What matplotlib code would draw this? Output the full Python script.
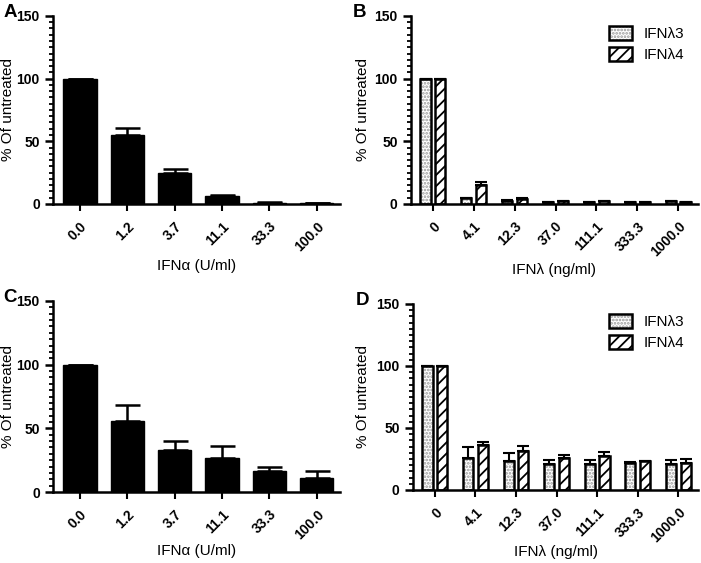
import matplotlib.pyplot as plt
import numpy as np
from matplotlib.ticker import MultipleLocator

plt.rcParams['font.family'] = ['Liberation Sans', 'DejaVu Sans']
plt.rcParams['hatch.linewidth'] = 1.3

# IFN alpha panels
alpha_doses = ['0.0', '1.2', '3.7', '11.1', '33.3', '100.0']
a_mean = [100, 55, 25, 6, 1, 0.5]
a_err = [0, 5.8, 2.6, 1.0, 0.3, 0.2]
c_mean = [100, 56, 32.7, 27, 16.5, 11.3]
c_err = [0, 12.7, 7.6, 9.4, 3.5, 4.9]

# IFN lambda panels
lambda_doses = ['0', '4.1', '12.3', '37.0', '111.1', '333.3', '1000.0']
b_l3 = [100, 4.5, 2.5, 1.5, 1.5, 1.5, 2.0]
b_l3_err = [0, 0.4, 0.3, 0.2, 0.2, 0.2, 0.3]
b_l4 = [100, 14.8, 4.0, 2.0, 2.0, 1.5, 1.5]
b_l4_err = [0, 2.6, 0.5, 0.3, 0.3, 0.2, 0.2]
d_l3 = [100, 26, 23, 20.7, 20.7, 22, 20.7]
d_l3_err = [0, 9, 6.5, 3.5, 3.3, 0.6, 3.3]
d_l4 = [100, 36, 31.5, 25.5, 27.7, 23, 22]
d_l4_err = [0, 3, 4, 3, 2.7, 0.4, 3]

fig = plt.figure(figsize=(7.01, 5.63), dpi=100)
axA = fig.add_axes([0.0756, 0.6377, 0.4094, 0.334])
axB = fig.add_axes([0.586, 0.6377, 0.410, 0.334])
axC = fig.add_axes([0.0756, 0.126, 0.4094, 0.3394])
axD = fig.add_axes([0.589, 0.1297, 0.407, 0.3305])


def style(ax, labels, xlabel, letter, ylab_x, xlab_y, letter_x):
    for s in ['top', 'right']:
        ax.spines[s].set_visible(False)
    for s in ['left', 'bottom']:
        ax.spines[s].set_linewidth(1.8)
    ax.set_ylim(0, 150)
    ax.yaxis.set_major_locator(MultipleLocator(50))
    ax.yaxis.set_minor_locator(MultipleLocator(5))
    ax.tick_params(axis='y', which='major', length=6, width=1.8, labelsize=10)
    ax.tick_params(axis='y', which='minor', length=3, width=1.3)
    ax.tick_params(axis='x', which='major', length=5, width=1.5, labelsize=10,
                   pad=6)
    ax.set_xticks(range(len(labels)))
    ax.set_xticklabels(labels, rotation=45, ha='right', rotation_mode='anchor',
                       fontweight='bold')
    for t in ax.get_yticklabels():
        t.set_fontweight('bold')
    ax.set_ylabel('% Of untreated', fontsize=11)
    ax.yaxis.set_label_coords(ylab_x, 0.5)
    ax.set_xlabel(xlabel, fontsize=11, va='center')
    ax.xaxis.set_label_coords(0.5, xlab_y)
    ax.text(letter_x, 1.02, letter, transform=ax.transAxes, fontsize=13.5,
            fontweight='bold', va='center', ha='left')


def alpha_panel(ax, mean, err, letter, xlab_y):
    x = np.arange(len(alpha_doses))
    ax.bar(x, mean, width=0.7, color='black', edgecolor='black',
           yerr=[np.zeros(len(err)), err], capsize=9,
           error_kw=dict(elinewidth=1.8, capthick=1.8, ecolor='black'))
    ax.set_xlim(-0.57, 5.49)
    style(ax, alpha_doses, 'IFN\u03b1 (U/ml)', letter, -0.132, xlab_y, -0.174)


def lambda_panel(ax, l3, l3e, l4, l4e, letter, ylab_x, xlab_y):
    x = np.arange(len(lambda_doses))
    w = 0.25
    ekw = dict(elinewidth=1.5, capthick=1.5, ecolor='black')
    # dotted fill in grey, outline drawn on top in black
    dots = ax.bar(x - 0.18, l3, width=w, color='white', edgecolor='0.6',
                  linewidth=0, hatch='.....')
    out3 = ax.bar(x - 0.18, l3, width=w, fill=False, edgecolor='black',
                  linewidth=1.8, yerr=[np.zeros(len(l3e)), l3e], capsize=4,
                  error_kw=ekw)
    bar4 = ax.bar(x + 0.18, l4, width=w, color='white', edgecolor='black',
                  linewidth=1.8, hatch='///',
                  yerr=[np.zeros(len(l4e)), l4e], capsize=4, error_kw=ekw)
    ax.set_xlim(-0.54, 6.49)
    style(ax, lambda_doses, 'IFN\u03bb (ng/ml)', letter, ylab_x, xlab_y, -0.202)
    ax.legend([(dots[0], out3[0]), bar4[0]], ['IFN\u03bb3', 'IFN\u03bb4'],
              loc='upper right', bbox_to_anchor=(1.0, 1.02), frameon=False,
              fontsize=11, handlelength=1.5, handleheight=1.0,
              labelspacing=0.4, handletextpad=0.8)


alpha_panel(axA, a_mean, a_err, 'A', -0.33)
lambda_panel(axB, b_l3, b_l3_err, b_l4, b_l4_err, 'B', -0.143, -0.351)
alpha_panel(axC, c_mean, c_err, 'C', -0.309)
lambda_panel(axD, d_l3, d_l3_err, d_l4, d_l4_err, 'D', -0.15, -0.333)

fig.savefig('out.png', dpi=100)
